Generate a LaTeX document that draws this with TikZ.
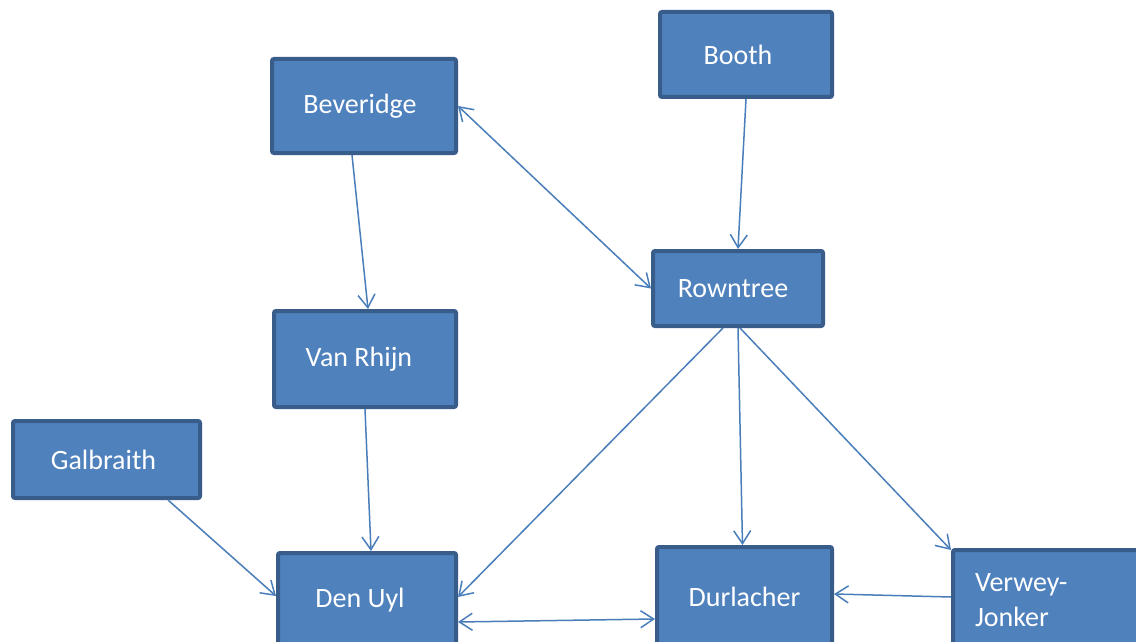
\documentclass[tikz,border=0pt]{standalone}
\usepackage{fontspec}
\setmainfont{Carlito}
\usetikzlibrary{arrows.meta,calc}
\definecolor{boxfill}{HTML}{4F81BD}
\definecolor{boxline}{HTML}{385D8A}
\definecolor{edgecol}{HTML}{4A7EBB}
\tikzset{
  pbox/.style={draw=boxline, fill=boxfill, line width=4pt, rounded corners=2pt,
    text=white, font=\fontsize{28}{35}\selectfont, inner sep=0pt},
  conn/.style={draw=edgecol, line width=1.5pt, -{Straight Barb[length=13pt,width=17pt,line width=1.5pt]}},
  conn2/.style={draw=edgecol, line width=1.5pt, {Straight Barb[length=13pt,width=17pt,line width=1.5pt]}-{Straight Barb[length=13pt,width=17pt,line width=1.5pt]}}
}
\begin{document}
\begin{tikzpicture}[x=1pt,y=-1pt]
\useasboundingbox (0,0) rectangle (1136,642);
\clip (0,0) rectangle (1136,642);
\fill[white] (0,0) rectangle (1136,642);
\node[pbox, minimum width=184pt, minimum height=94pt] (bev) at (364,106) {\hspace*{-8pt}Beveridge};
\node[pbox, minimum width=172pt, minimum height=85pt] (booth) at (746,54.5) {\hspace*{-16pt}Booth};
\node[pbox, minimum width=170pt, minimum height=75pt] (row) at (738,288.5) {\hspace*{-10pt}Rowntree};
\node[pbox, minimum width=182pt, minimum height=96pt] (van) at (365,359) {\hspace*{-12pt}Van Rhijn};
\node[pbox, minimum width=187pt, minimum height=77pt] (gal) at (106.5,459.5) {\hspace*{-6pt}Galbraith};
\node[pbox, minimum width=178pt, minimum height=94pt] (den) at (367,600) {\hspace*{-14pt}Den Uyl};
\node[pbox, minimum width=175pt, minimum height=100pt] (dur) at (744.5,597) {Durlacher};
\node[pbox, minimum width=190pt, minimum height=100pt, text width=166pt, align=left] (vj) at (1048,600) {\hspace*{10pt}Verwey-\\\hspace*{10pt}Jonker};
\draw[conn2] (bev.east) -- (row.west);
\draw[conn] (booth.south) -- (row.north);
\draw[conn] ($(bev.south)+(-12,0)$) -- ($(van.north)+(3,0)$);
\draw[conn] (van.south) -- ($(den.north)+(4,0)$);
\draw[conn] ($(gal.south)+(61.5,0)$) -- ($(den.west)+(0,-4)$);
\draw[conn] ($(row.south)+(-15,0)$) -- ($(den.east)+(0,-3)$);
\draw[conn] (row.south) -- ($(dur.north)+(-2,0)$);
\draw[conn] ($(row.south)+(2,0)$) -- ($(vj.north west)+(0,2)$);
\draw[conn2] ($(den.east)+(0,22)$) -- ($(dur.west)+(0,22)$);
\draw[conn] ($(vj.west)+(0,-3)$) -- ($(dur.east)+(0,-3)$);
\end{tikzpicture}
\end{document}
